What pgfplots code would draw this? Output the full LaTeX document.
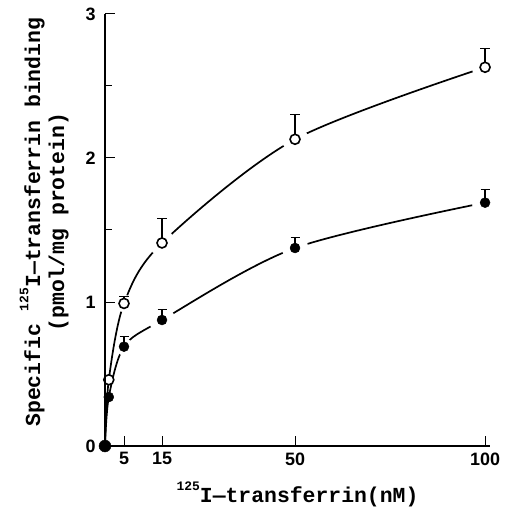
\documentclass[border=0pt]{standalone}
\usepackage{pgfplots}
\pgfplotsset{compat=1.18}
\usepackage{fontspec}
\setmainfont{Liberation Sans}
\newfontfamily\labfont{Liberation Mono}
\begin{document}
\begin{tikzpicture}
\path[use as bounding box] (-105bp,-70bp) rectangle (408bp,446bp);
\begin{axis}[
  at={(0,0)}, anchor=south west,
  width=385bp, height=432bp, scale only axis,
  xmin=0, xmax=101.3, ymin=0, ymax=3,
  axis x line=bottom, axis y line=left,
  axis line style={-, line width=1.3bp},
  xtick={5,15,50,100}, ytick={0,1,2,3}, minor ytick={1.5,2.5},
  tick align=inside, major tick length=10bp, minor tick length=7bp,
  tick style={line width=1bp, black},
  /pgf/number format/assume math mode=true,
  ticklabel style={font=\fontsize{18}{18}\selectfont\bfseries},
  xticklabel style={yshift=-3bp},
  yticklabel style={xshift=-6bp},
  clip=false, clip marker paths=true, axis on top,
  xlabel={\raisebox{0.55em}{\fontsize{13}{13}\selectfont 125}I—transferrin(nM)},
  xlabel style={font=\labfont\fontsize{21.5}{21.5}\selectfont\bfseries, at={(axis description cs:0.5,-0.112)}, anchor=center},
  ylabel={Specific \raisebox{0.55em}{\fontsize{13}{13}\selectfont 125}I—transferrin binding\\(pmol/mg protein)},
  ylabel style={font=\labfont\fontsize{21.5}{24}\selectfont\bfseries, align=center, at={(axis description cs:-0.158,0.518)}, anchor=center},
]
% curves
\addplot[black, line width=1.7bp, smooth, tension=0.5] coordinates {(0,0) (1,0.46) (5,0.99) (15,1.41) (50,2.13) (100,2.63)};
\addplot[black, line width=1.7bp, smooth, tension=0.5] coordinates {(0,0) (1,0.34) (5,0.69) (15,0.875) (50,1.375) (100,1.69)};
% gaps around markers
\addplot[only marks, mark=*, mark size=13bp, color=white, mark options={draw=white, fill=white}] coordinates {(15,1.41) (50,2.13) (100,2.63) (15,0.875) (50,1.375) (100,1.69)};
\addplot[only marks, mark=*, mark size=8.5bp, color=white, mark options={draw=white, fill=white}] coordinates {(5,0.99) (5,0.69)};
% error bars
\addplot[black, draw=none, mark=none,
  error bars/.cd, y dir=plus, y explicit, error mark=|, error bar style={line width=1.3bp, black},
  error mark options={line width=1.3bp, mark size=5bp, black}]
  table[x=x, y=y, y error=e] {
x y e
5 0.99 0.05
15 1.41 0.17
50 2.13 0.17
100 2.63 0.13
};
\addplot[black, draw=none, mark=none,
  error bars/.cd, y dir=plus, y explicit, error mark=|, error bar style={line width=1.3bp, black},
  error mark options={line width=1.3bp, mark size=4.5bp, black}]
  table[x=x, y=y, y error=e] {
x y e
5 0.69 0.07
15 0.875 0.075
50 1.375 0.075
100 1.69 0.09
};
% open circles
\addplot[only marks, mark=*, mark size=5bp, mark options={draw=black, fill=white, line width=1.6bp}]
  coordinates {(1,0.46) (5,0.99) (15,1.41) (50,2.13) (100,2.63)};
% filled circles
\addplot[only marks, mark=*, mark size=5bp, mark options={draw=black, fill=black}]
  coordinates {(1,0.34) (5,0.69) (15,0.875) (50,1.375) (100,1.69)};
\addplot[only marks, mark=*, mark size=6bp, mark options={fill=black, draw=black}] coordinates {(0,0)};
\end{axis}
\end{tikzpicture}
\end{document}
